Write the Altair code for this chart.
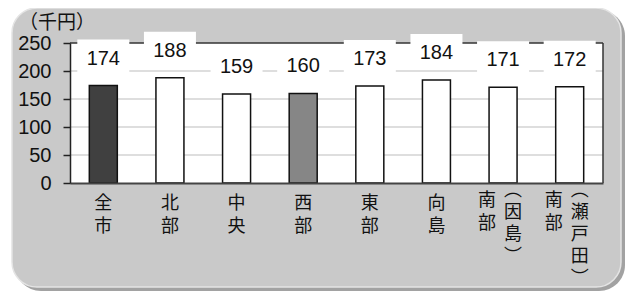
import altair as alt
import pandas as pd

categories = ["全市", "北部", "中央", "西部", "東部", "向島", "南部（因島）", "南部（瀬戸田）"]
values = [174, 188, 159, 160, 173, 184, 171, 172]
fills = ["#404040", "#ffffff", "#ffffff", "#868686", "#ffffff", "#ffffff", "#ffffff", "#ffffff"]
label_main = ["全\n市", "北\n部", "中\n央", "西\n部", "東\n部", "向\n島", "南\n部", "南\n部"]
label_sub = ["", "", "", "", "", "", "︵\n因\n島\n︶", "︵\n瀬\n戸\n田\n︶"]
y_ticks = [0, 50, 100, 150, 200, 250]
grid_values = [50, 100, 150, 200]
unit_label = "（千円）"

W, H = 533, 140
NUM_FONT = "Liberation Sans"
CJK_FONT = "Noto Sans CJK JP"

df = pd.DataFrame({
    "category": categories,
    "value": values,
    "main": label_main,
    "sub": label_sub,
    "two": [s != "" for s in label_sub],
})
grid_df = pd.DataFrame({"value": grid_values})

xs = alt.Scale(domain=categories, paddingInner=0, paddingOuter=0)
ys = alt.Scale(domain=[0, 250], nice=False, zero=True)

y_axis = alt.Axis(values=y_ticks, grid=False, title=None, domainColor="#222222",
                  domainWidth=1.5, tickColor="#222222", tickSize=7, tickWidth=1.5,
                  labelPadding=12, labelFontSize=20, labelFont=NUM_FONT,
                  labelOverlap=False, labelBound=False, labelFlush=False,
                  labelColor="#111111", zindex=1)
x_axis = alt.Axis(labels=False, ticks=False, title=None, domainColor="#444444",
                  domainWidth=2, zindex=1)


def X():
    return alt.X("category:N", scale=xs, sort=categories, axis=x_axis)


def Y():
    return alt.Y("value:Q", scale=ys, axis=y_axis)


base = alt.Chart(df)
one = "datum.category == '全市'"

shadow = base.mark_rect(fill="#a2a2a2", cornerRadius=26).encode(
    x=alt.value(-55), x2=alt.value(555), y=alt.value(-33), y2=alt.value(248)
).transform_filter(one)
panel = base.mark_rect(fill="#c9c9c9", stroke="#e4e4e4", strokeWidth=1.5, cornerRadius=25).encode(
    x=alt.value(-58), x2=alt.value(551), y=alt.value(-35), y2=alt.value(244)
).transform_filter(one)
plot_bg = base.mark_rect(fill="#ffffff").encode(
    x=alt.value(0), x2=alt.value(W), y=alt.value(0), y2=alt.value(H)
).transform_filter(one)

grid = alt.Chart(grid_df).mark_rule(color="#bdbdbd", strokeWidth=1).encode(
    y=Y(), x=alt.value(0), x2=alt.value(W)
)
top_border = base.mark_rule(color="#333333", strokeWidth=1.5).encode(
    y=alt.value(0), x=alt.value(0), x2=alt.value(W)
).transform_filter(one)
right_border = base.mark_rule(color="#333333", strokeWidth=1.5).encode(
    x=alt.value(W), y=alt.value(0), y2=alt.value(H)
).transform_filter(one)

boxes = base.mark_bar(fill="#ffffff", width=52, yOffset=-46, y2Offset=-13).encode(
    x=X(), y=Y(), y2="value:Q",
)

bars = base.mark_bar(width=28, stroke="#111111", strokeWidth=1.5).encode(
    x=X(), y=Y(),
    fill=alt.Fill("category:N", scale=alt.Scale(domain=categories, range=fills), legend=None),
)

value_text = base.mark_text(font=NUM_FONT, fontSize=20, dy=-27, baseline="middle",
                            color="#111111").encode(
    x=X(), y=Y(), text="value:Q",
)

lab_single = base.mark_text(font=CJK_FONT, fontSize=18, lineHeight=23, lineBreak="\n",
                            baseline="top", align="center", color="#111111").encode(
    x=X(), y=alt.value(H + 12), text="main:N",
).transform_filter("!datum.two")
lab_left = base.mark_text(font=CJK_FONT, fontSize=18, lineHeight=23, lineBreak="\n",
                          baseline="top", align="center", dx=-16, color="#111111").encode(
    x=X(), y=alt.value(H + 9), text="main:N",
).transform_filter("datum.two")
lab_right = base.mark_text(font=CJK_FONT, fontSize=18, lineHeight=22, lineBreak="\n",
                           baseline="top", align="center", dx=10, color="#111111").encode(
    x=X(), y=alt.value(H - 1), text="sub:N",
).transform_filter("datum.two")

unit = base.mark_text(font=CJK_FONT, fontSize=19, align="left", baseline="middle",
                      color="#111111").encode(
    x=alt.value(-51), y=alt.value(-20), text=alt.value(unit_label)
).transform_filter(one)

chart = alt.layer(
    shadow, panel, plot_bg, grid, top_border, right_border, boxes, bars,
    value_text, lab_single, lab_left, lab_right, unit
).properties(
    width=W, height=H,
    autosize=alt.AutoSizeParams(type="none"),
    padding={"left": 62, "top": 35, "right": 22, "bottom": 108},
).configure_view(stroke=None).configure(background="#ffffff")

chart.save("out.html", embed_options={"renderer": "svg", "actions": False})
